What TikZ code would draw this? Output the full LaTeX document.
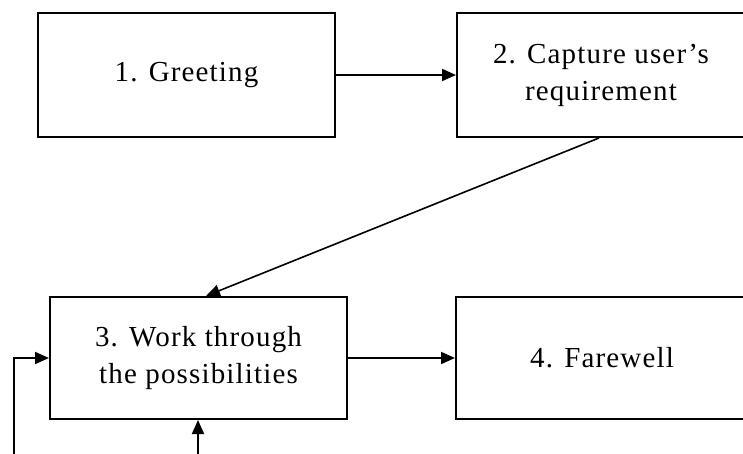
\documentclass[tikz,border=0pt]{standalone}
\usepackage{fontspec}
\setmainfont{Liberation Serif}[LetterSpace=4]
\usetikzlibrary{arrows.meta,calc}

\tikzset{
  stepbox/.style={draw, line width=1pt, inner sep=0pt, align=center,
    font=\fontsize{14.5pt}{18.5pt}\selectfont},
  tip/.style={-{Triangle[length=7pt,width=6pt]}},
  arr/.style={line width=1pt, tip},
}

\begin{document}
\begin{tikzpicture}[x=0.5pt, y=-0.5pt]
  \useasboundingbox (0,0) rectangle (743,454);
  \clip (0,0) rectangle (743,454);

  % process steps
  \node[stepbox, minimum width=148.5pt, minimum height=62pt] (g) at (186.5,75) {1. Greeting};
  \node[stepbox, minimum width=144pt, minimum height=62pt] (c) at (601,75) {2. Capture user's\\requirement};
  \node[stepbox, minimum width=148.5pt, minimum height=61pt] (w) at (198.5,358) {3. Work through\\the possibilities};
  \node[stepbox, minimum width=146pt, minimum height=61pt] (f) at (602,358) {4. Farewell};

  % free ends of the incoming loops
  \coordinate (loopA) at (14,470);
  \coordinate (loopB) at (198,470);

  % connectors
  \draw[arr] (g.east) -- (c.west);
  \draw[line width=0.8pt, tip]
    ($(c.south west)+(143,0)$) -- ($(w.north west)+(157,0)$);
  \draw[arr] (w.east) -- (f.west);
  \draw[arr] (loopA) |- (w.west);
  \draw[arr] (loopB) -- (loopB |- w.south);
\end{tikzpicture}
\end{document}
